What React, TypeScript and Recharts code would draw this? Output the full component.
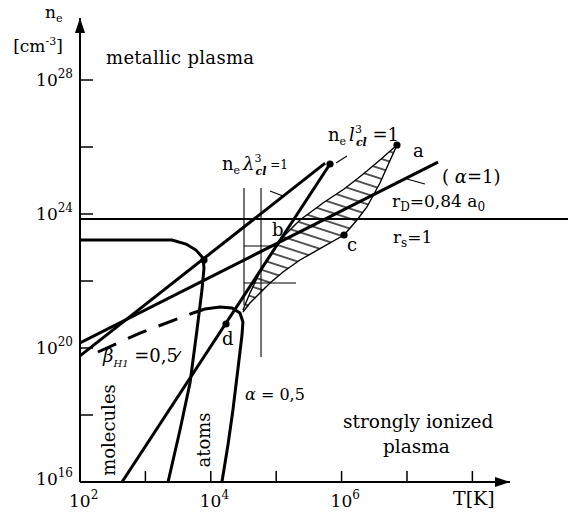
import React from "react";
import {
  ComposedChart,
  XAxis,
  YAxis,
  Line,
  Area,
  Scatter,
  ReferenceLine,
  ReferenceDot,
} from "recharts";

const FONT = "'DejaVu Serif', 'Liberation Serif', serif";

// ---- axes ----
const xTicks = [1e2, 1e3, 1e4, 1e5, 1e6, 1e7, 1e8];
const xLabeledExps = [2, 4, 6];
const yTicks = [1e16, 1e18, 1e20, 1e22, 1e24, 1e26, 1e28];
const yLabeledExps = [16, 20, 24, 28];
const xDomain = [1e2, 3.76e8];
const yDomain = [1e16, 7.1e29];

// ---- curves (T [K], n_e [cm^-3]) ----
const moleculesCurve = [
  { T: 100, n: 1.67e23 },
  { T: 2.55e3, n: 1.67e23 },
  { T: 4.18e3, n: 1.27e23 },
  { T: 5.94e3, n: 8.4e22 },
  { T: 7.6e3, n: 4.86e22 },
  { T: 7.87e3, n: 2.44e22 },
  { T: 7.33e3, n: 5.38e21 },
  { T: 6.15e3, n: 3.44e20 },
  { T: 4.81e3, n: 9.0e18 },
  { T: 3.38e3, n: 3.56e17 },
  { T: 2.22e3, n: 1e16 },
];
const betaDashed = [
  { T: 188, n: 7.6e19 },
  { T: 826, n: 2.8e20 },
  { T: 5.35e3, n: 1.11e21 },
];
const atomsCurve = [
  { T: 5.35e3, n: 1.11e21 },
  { T: 8.15e3, n: 1.46e21 },
  { T: 1.38e4, n: 1.68e21 },
  { T: 2.11e4, n: 1.56e21 },
  { T: 2.79e4, n: 1.11e21 },
  { T: 3.1e4, n: 5.97e20 },
  { T: 3.0e4, n: 2.44e20 },
  { T: 2.7e4, n: 4.39e19 },
  { T: 2.18e4, n: 1.41e18 },
  { T: 1.83e4, n: 1.27e17 },
  { T: 1.48e4, n: 1e16 },
];
const lambdaLine = [
  { T: 100, n: 5.8e19 },
  { T: 5.6e5, n: 3.3e25 },
];
const debyeLine = [
  { T: 100, n: 1.41e20 },
  { T: 2.98e7, n: 3.56e25 },
];
const lLine = [
  { T: 439, n: 1e16 },
  { T: 6.65e5, n: 3.11e25 },
];
const hatchRegion = [
  { T: 3.1e4, lo: 1.19e21, hi: 1.36e21 },
  { T: 3.97e4, lo: 2.2e21, hi: 4.39e21 },
  { T: 5.65e4, lo: 4.39e21, hi: 1.86e22 },
  { T: 8.04e4, lo: 8.7e21, hi: 5.57e22 },
  { T: 1.27e5, lo: 1.86e22, hi: 2.06e23 },
  { T: 2.31e5, lo: 4.24e22, hi: 6.62e23 },
  { T: 5.2e5, lo: 1.04e23, hi: 2.13e24 },
  { T: 1.09e6, lo: 2.36e23, hi: 5.57e24 },
  { T: 1.72e6, lo: 6.62e23, hi: 1.11e25 },
  { T: 2.44e6, lo: 1.62e24, hi: 1.92e25 },
  { T: 3.86e6, lo: 8.4e24, hi: 4.1e25 },
  { T: 7.03e6, lo: 1.15e26, hi: 1.15e26 },
];
const rsLevel = 7.1e23;
const rsEnd = 2.9e9;
const verticalGuides = [
  { T: 3.22e4, from: 1.92e21, to: 5.97e24 },
  { T: 5.86e4, from: 5.38e19, to: 5.97e24 },
];
const horizontalGuides = [
  { n: 1.11e23, from: 3.22e4, to: 1.03e5 },
  { n: 8.7e21, from: 3.22e4, to: 2.01e5 },
];
const pointerTicks = [
  [ { T: 1.21e6, n: 5.38e25 }, { T: 8.2e5, n: 3.33e25 } ],
  [ { T: 8.04e4, n: 4.86e24 }, { T: 1.27e5, n: 3.44e24 } ],
  [ { T: 1.0e7, n: 1.11e25 }, { T: 1.88e7, n: 7.87e24 } ],
  [ { T: 2.94e3, n: 5.0e19 }, { T: 3.5e3, n: 8.1e19 } ],
];
const markedPoints = [
  { T: 7.03e6, n: 1.15e26 },
  { T: 1.09e6, n: 2.36e23 },
  { T: 6.65e5, n: 3.11e25 },
  { T: 1.71e4, n: 5.2e20 },
  { T: 7.87e3, n: 4.24e22 },
];

// ---- text annotations anchored in data coordinates ----
const annotations = [
  { id: "ne", T: 29.2, n: 7.1e29 },
  { id: "unit", T: 9.5, n: 6.9e28 },
  { id: "metallic", T: 250, n: 3.0e28 },
  { id: "nl3", T: 6.2e5, n: 1.51e26 },
  { id: "a", T: 1.24e7, n: 5.0e25 },
  { id: "alpha1", T: 3.43e7, n: 8.4e24 },
  { id: "rD", T: 5.9e6, n: 1.62e24 },
  { id: "rs", T: 6.1e6, n: 1.36e23 },
  { id: "nlambda", T: 1.48e4, n: 2.06e25 },
  { id: "b", T: 8.6e4, n: 2.2e23 },
  { id: "c", T: 1.21e6, n: 7.9e22 },
  { id: "d", T: 1.48e4, n: 1.23e20 },
  { id: "beta", T: 225, n: 3.8e19 },
  { id: "alpha05", T: 3.34e4, n: 2.8e18 },
  { id: "molecules", T: 343, n: 3.56e17 },
  { id: "atoms", T: 9.7e3, n: 1.8e17 },
  { id: "strongly", T: 1.05e6, n: 4.1e17 },
  { id: "plasma", T: 4.3e6, n: 7.3e16 },
  { id: "TK", T: 5.05e7, n: 2.06e15 },
];

const base = { fontFamily: FONT, fill: "#000" } as const;

function annContent(id: string, x: number, y: number) {
  switch (id) {
    case "ne":
      return (
        <text x={x} y={y} fontSize={17} {...base}>
          n<tspan dy={4} fontSize={11}>e</tspan>
        </text>
      );
    case "unit":
      return (
        <text x={x} y={y} fontSize={17} {...base}>
          [cm<tspan dy={-7} fontSize={11}>-3</tspan><tspan dy={7}>]</tspan>
        </text>
      );
    case "metallic":
      return (
        <text x={x} y={y} fontSize={18} letterSpacing={0.3} {...base}>
          metallic plasma
        </text>
      );
    case "nl3":
      return (
        <text x={x} y={y} fontSize={18} {...base}>
          n<tspan dy={4} fontSize={11}>e</tspan>
          <tspan dx={3} dy={-4} fontStyle="italic">l</tspan>
          <tspan dy={-8} fontSize={11}>3</tspan>
          <tspan dx={-6} dy={13} fontSize={11} fontStyle="italic" fontWeight="bold">cl</tspan>
          <tspan dy={-5}> =1</tspan>
        </text>
      );
    case "a":
      return <text x={x} y={y} fontSize={18} {...base}>a</text>;
    case "alpha1":
      return (
        <text x={x} y={y} fontSize={18} {...base}>
          ( <tspan fontStyle="italic">α</tspan>=1)
        </text>
      );
    case "rD":
      return (
        <text x={x} y={y} fontSize={17} {...base}>
          r<tspan dy={4} fontSize={12}>D</tspan><tspan dy={-4}>=0,84 a</tspan>
          <tspan dy={4} fontSize={12}>0</tspan>
        </text>
      );
    case "rs":
      return (
        <text x={x} y={y} fontSize={17} {...base}>
          r<tspan dy={4} fontSize={12}>s</tspan><tspan dy={-4}>=1</tspan>
        </text>
      );
    case "nlambda":
      return (
        <text x={x} y={y} fontSize={18} {...base}>
          n<tspan dy={4} fontSize={11}>e</tspan>
          <tspan dx={3} dy={-4} fontStyle="italic">λ</tspan>
          <tspan dy={-8} fontSize={11}>3</tspan>
          <tspan dx={-6} dy={13} fontSize={11} fontStyle="italic" fontWeight="bold">cl</tspan>
          <tspan dy={-6} fontSize={12}> =1</tspan>
        </text>
      );
    case "b":
    case "c":
    case "d":
      return <text x={x} y={y} fontSize={18} {...base}>{id}</text>;
    case "beta":
      return (
        <text x={x} y={y} fontSize={18} {...base}>
          <tspan fontStyle="italic">β</tspan>
          <tspan dy={5} fontSize={10} fontStyle="italic">H1</tspan>
          <tspan dy={-5}> =0,5</tspan>
        </text>
      );
    case "alpha05":
      return (
        <text x={x} y={y} fontSize={16} {...base}>
          <tspan fontStyle="italic">α</tspan> = 0,5
        </text>
      );
    case "molecules":
      return (
        <text x={x} y={y} fontSize={18} textAnchor="middle"
          transform={`rotate(-90 ${x} ${y})`} {...base}>
          molecules
        </text>
      );
    case "atoms":
      return (
        <text x={x} y={y} fontSize={18} textAnchor="middle"
          transform={`rotate(-90 ${x} ${y})`} {...base}>
          atoms
        </text>
      );
    case "strongly":
      return (
        <text x={x} y={y} fontSize={18.5} {...base}>
          strongly ionized
        </text>
      );
    case "plasma":
      return (
        <text x={x} y={y} fontSize={18.5} {...base}>
          plasma
        </text>
      );
    case "TK":
      return <text x={x} y={y} fontSize={19} {...base}>T[K]</text>;
    default:
      return null;
  }
}

const XTick = (props: any) => {
  const { x, y, payload } = props;
  const e = Math.round(Math.log10(payload.value));
  return (
    <g>
      {e > 2 && <line x1={x} y1={y} x2={x} y2={y - 11} stroke="#000" strokeWidth={1.5} />}
      {xLabeledExps.includes(e) && (
        <text x={x - 11} y={y + 25} fontSize={17} {...base}>
          10<tspan dy={-8} fontSize={12}>{e}</tspan>
        </text>
      )}
    </g>
  );
};

const YTick = (props: any) => {
  const { x, y, payload } = props;
  const e = Math.round(Math.log10(payload.value));
  return (
    <g>
      {e > 16 && <line x1={x} y1={y} x2={x + 13} y2={y} stroke="#000" strokeWidth={1.5} />}
      {yLabeledExps.includes(e) && (
        <text x={x - 7} y={y + (e === 16 ? 3 : 6)} textAnchor="end" fontSize={17} {...base}>
          10<tspan dy={-8} fontSize={12}>{e}</tspan>
        </text>
      )}
    </g>
  );
};

const thick = { stroke: "#000", strokeWidth: 3, dot: false, isAnimationActive: false, type: "linear" as const };

export default function App() {
  return (
    <div style={{ position: "absolute", left: 0, top: 0, background: "#fff" }}>
      <ComposedChart
        width={577}
        height={514}
        margin={{ top: 18, right: 67, bottom: 2, left: 30 }}
      >
        <defs>
          <pattern id="hatch" patternUnits="userSpaceOnUse" width="12" height="9.5"
            patternTransform="rotate(18)">
            <line x1="0" y1="4.75" x2="12" y2="4.75" stroke="#000" strokeWidth="1.3" />
          </pattern>
        </defs>
        <XAxis
          dataKey="T"
          type="number"
          scale="log"
          domain={xDomain}
          allowDataOverflow
          ticks={xTicks}
          interval={0}
          height={30}
          tickSize={0}
          tickMargin={0}
          tickLine={false}
          axisLine={{ stroke: "#000", strokeWidth: 2 }}
          tick={<XTick />}
        />
        <YAxis
          type="number"
          scale="log"
          domain={yDomain}
          allowDataOverflow
          ticks={yTicks}
          interval={0}
          width={50}
          tickSize={0}
          tickMargin={0}
          tickLine={false}
          axisLine={{ stroke: "#000", strokeWidth: 2 }}
          tick={<YTick />}
        />
        <Area
          data={hatchRegion}
          dataKey={(d: any) => [d.lo, d.hi]}
          type="linear"
          stroke="#000"
          strokeWidth={1.4}
          fill="url(#hatch)"
          fillOpacity={1}
          isAnimationActive={false}
          dot={false}
          activeDot={false}
        />
        <ReferenceLine
          segment={[{ x: 100, y: rsLevel }, { x: rsEnd, y: rsLevel }]}
          stroke="#000"
          strokeWidth={2}
          ifOverflow="visible"
        />
        {verticalGuides.map((g, i) => (
          <ReferenceLine key={"v" + i}
            segment={[{ x: g.T, y: g.from }, { x: g.T, y: g.to }]}
            stroke="#000" strokeWidth={1.1} ifOverflow="visible" />
        ))}
        {horizontalGuides.map((g, i) => (
          <ReferenceLine key={"h" + i}
            segment={[{ x: g.from, y: g.n }, { x: g.to, y: g.n }]}
            stroke="#000" strokeWidth={1.1} ifOverflow="visible" />
        ))}
        <Line data={moleculesCurve} dataKey="n" {...thick} />
        <Line data={betaDashed} dataKey="n" {...thick} strokeDasharray="20 13" />
        <Line data={atomsCurve} dataKey="n" {...thick} />
        <Line data={lambdaLine} dataKey="n" {...thick} />
        <Line data={debyeLine} dataKey="n" {...thick} />
        <Line data={lLine} dataKey="n" {...thick} />
        {pointerTicks.map((p, i) => (
          <Line key={"p" + i} data={p} dataKey="n" stroke="#000" strokeWidth={1.1}
            dot={false} isAnimationActive={false} type="linear" />
        ))}
        <Scatter
          data={markedPoints}
          dataKey="n"
          isAnimationActive={false}
          shape={(p: any) => <circle cx={p.cx} cy={p.cy} r={3.6} fill="#000" />}
        />
        {annotations.map((a) => (
          <ReferenceDot
            key={a.id}
            x={a.T}
            y={a.n}
            r={0}
            ifOverflow="visible"
            shape={(p: any) => annContent(a.id, p.cx, p.cy)}
          />
        ))}
        <ReferenceDot
          x={xDomain[1]}
          y={yDomain[0]}
          ifOverflow="visible"
          shape={(p: any) => (
            <polygon
              points={`${p.cx},${p.cy} ${p.cx - 15},${p.cy - 5} ${p.cx - 15},${p.cy + 5}`}
              fill="#000"
            />
          )}
        />
        <ReferenceDot
          x={xDomain[0]}
          y={yDomain[1]}
          ifOverflow="visible"
          shape={(p: any) => (
            <polygon
              points={`${p.cx},${p.cy} ${p.cx - 5},${p.cy + 15} ${p.cx + 5},${p.cy + 15}`}
              fill="#000"
            />
          )}
        />
      </ComposedChart>
    </div>
  );
}
